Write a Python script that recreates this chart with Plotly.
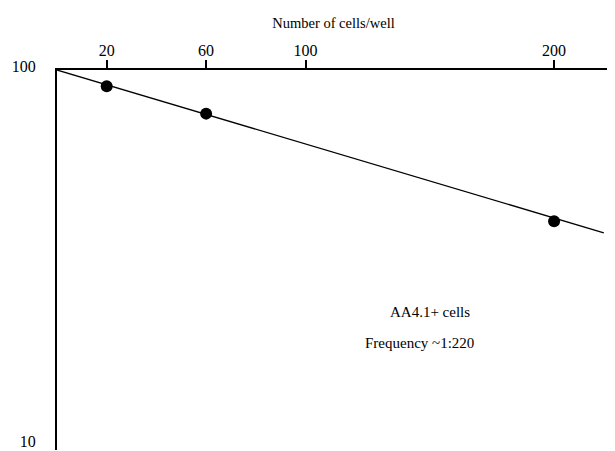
import plotly.graph_objects as go

# Data
cells_per_well = [20, 60, 200]
pct_negative = [90.5, 76.5, 39.5]
fit_x = [0, 220]
fit_y = [100, 36.8]
x_ticks = [20, 60, 100, 200]
y_ticks = [10, 100]
note_lines = ["AA4.1+ cells", "Frequency ~1:220"]

FONT = "Liberation Serif, Times New Roman, serif"

fig = go.Figure()
fig.add_trace(go.Scatter(x=fit_x, y=fit_y, mode="lines",
                         line=dict(color="black", width=1.3),
                         hoverinfo="skip", showlegend=False))
fig.add_trace(go.Scatter(x=cells_per_well, y=pct_negative, mode="markers",
                         marker=dict(color="black", size=12),
                         showlegend=False))

fig.update_layout(
    width=615, height=451,
    margin=dict(l=49, r=13, t=62, b=9),
    paper_bgcolor="white", plot_bgcolor="white",
    font=dict(family=FONT, size=15, color="black"),
    xaxis=dict(side="top", range=[0, 222.5], tickvals=x_ticks,
               ticktext=[str(v) for v in x_ticks],
               showgrid=False, zeroline=False, automargin=False,
               showline=True, linecolor="black", linewidth=2,
               ticks="outside", ticklen=8, tickwidth=1.5, tickcolor="black",
               ticklabelstandoff=-2,
               tickfont=dict(family=FONT, size=16),
               title=dict(text="Number of cells/well", standoff=10,
                          font=dict(family=FONT, size=14.5))),
    yaxis=dict(type="log", range=[0.9867, 2], tickvals=y_ticks,
               ticktext=[str(v) for v in y_ticks],
               showgrid=False, zeroline=False, automargin=False,
               showline=True, linecolor="black", linewidth=2,
               ticks="", ticklabelstandoff=16, ticklabelshift=-4,
               tickfont=dict(family=FONT, size=16)),
)

fig.add_annotation(x=150, y=1.3547, xref="x", yref="y", text=note_lines[0],
                   showarrow=False, font=dict(family=FONT, size=15))
fig.add_annotation(x=146, y=1.272, xref="x", yref="y", text=note_lines[1],
                   showarrow=False, font=dict(family=FONT, size=15))

fig.write_html("out.html")
